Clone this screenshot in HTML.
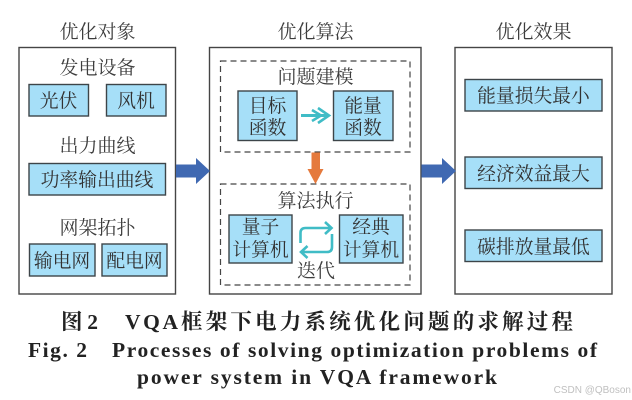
<!DOCTYPE html>
<html><head><meta charset="utf-8"><style>
html,body{margin:0;padding:0;background:#fff}
svg{display:block}
.c{font-family:"Liberation Serif","Noto Serif CJK SC",serif;fill:#3c3c3c;text-anchor:middle}
.t{font-size:19px}
.b{font-size:18.8px;fill:#333}
.box{fill:#a6dff8;stroke:#3e4448;stroke-width:1.4}
.panel{fill:#fff;stroke:#444;stroke-width:1.4}
.dash{fill:none;stroke:#444;stroke-width:1.2;stroke-dasharray:6 4}
.cap{font-family:"Liberation Serif","Noto Serif CJK SC",serif;fill:#222;font-weight:bold;font-size:21.5px}
</style></head><body>
<svg width="632" height="400" viewBox="0 0 632 400" xmlns="http://www.w3.org/2000/svg">
<defs><filter id="s" x="-5%" y="-5%" width="110%" height="110%"><feGaussianBlur stdDeviation="0.35"/></filter></defs>
<g filter="url(#s)">
<rect class="panel" x="19" y="47.5" width="156.5" height="246.5"/>
<rect class="panel" x="209.5" y="47.5" width="211.5" height="246.5"/>
<rect class="panel" x="455" y="47.5" width="157" height="246.5"/>
<rect class="dash" x="220.5" y="61" width="189.5" height="91"/>
<rect class="dash" x="220.5" y="184" width="189.5" height="101"/>

<rect class="box" x="29" y="84.5" width="59.5" height="31.5"/>
<rect class="box" x="106.5" y="84.5" width="59.5" height="31.5"/>
<rect class="box" x="29" y="163.5" width="136.5" height="31.5"/>
<rect class="box" x="29.5" y="244" width="65.5" height="32"/>
<rect class="box" x="102" y="244" width="65" height="32"/>
<rect class="box" x="238" y="91" width="59" height="49.5"/>
<rect class="box" x="333.5" y="91" width="59.5" height="49.5"/>
<rect class="box" x="229" y="215" width="63" height="48"/>
<rect class="box" x="339.5" y="215" width="63.5" height="48"/>
<rect class="box" x="465" y="79.5" width="137" height="31.5"/>
<rect class="box" x="465" y="157" width="137" height="31.5"/>
<rect class="box" x="465" y="230" width="137" height="31.5"/>

<polygon points="176,164.5 196,164.5 196,158 210,171 196,184 196,177.5 176,177.5" fill="#4169b2"/>
<polygon points="421.5,164.5 442,164.5 442,158 456,171 442,184 442,177.5 421.5,177.5" fill="#4169b2"/>
<polygon points="311.5,152.5 320,152.5 320,169 323.5,169 315.5,184 307.5,169 311.5,169" fill="#e57a3e"/>

<path d="M301 115.5H327" fill="none" stroke="#3fbcc6" stroke-width="3"/>
<path d="M318 108L329 115.5L318 123M312 110L321 115.5L312 121" fill="none" stroke="#3fbcc6" stroke-width="2.6"/>
<path d="M300.5 243V233Q300.5 228 305.5 228H331M325 222L331.5 228L325 234" fill="none" stroke="#3fbcc6" stroke-width="2.6"/>
<path d="M332 234V247Q332 252 327 252H301M307.5 246L301 252L307.5 258" fill="none" stroke="#3fbcc6" stroke-width="2.6"/>

<text class="c t" x="97.5" y="38">优化对象</text>
<text class="c t" x="315.5" y="38">优化算法</text>
<text class="c t" x="533.5" y="38">优化效果</text>

<text class="c t" x="97.5" y="74">发电设备</text>
<text class="c b" x="58.5" y="107">光伏</text>
<text class="c b" x="136" y="107">风机</text>
<text class="c t" x="97.5" y="152">出力曲线</text>
<text class="c b" x="97" y="186">功率输出曲线</text>
<text class="c t" x="97.5" y="234">网架拓扑</text>
<text class="c b" x="62" y="267">输电网</text>
<text class="c b" x="134.5" y="267">配电网</text>

<text class="c t" x="315.5" y="83">问题建模</text>
<text class="c b" x="267.5" y="112">目标</text>
<text class="c b" x="267.5" y="134">函数</text>
<text class="c b" x="363" y="112">能量</text>
<text class="c b" x="363" y="134">函数</text>

<text class="c t" x="315.5" y="207">算法执行</text>
<text class="c b" x="260.5" y="233">量子</text>
<text class="c b" x="260.5" y="256">计算机</text>
<text class="c b" x="371" y="233">经典</text>
<text class="c b" x="371" y="256">计算机</text>
<text class="c t" x="316" y="277">迭代</text>

<text class="c b" x="533.5" y="102">能量损失最小</text>
<text class="c b" x="533.5" y="180">经济效益最大</text>
<text class="c b" x="533.5" y="253">碳排放量最低</text>

<text class="cap" x="61" y="329" textLength="37" lengthAdjust="spacing">图 2</text>
<text class="cap" x="125" y="329" textLength="53" lengthAdjust="spacing">VQA</text>
<text class="cap" x="181" y="329" textLength="392" lengthAdjust="spacing">框架下电力系统优化问题的求解过程</text>
<text class="cap" x="28" y="357" textLength="59" lengthAdjust="spacing">Fig. 2</text>
<text class="cap" x="112" y="357" textLength="485" lengthAdjust="spacing">Processes of solving optimization problems of</text>
<text class="cap" x="137" y="384" textLength="360" lengthAdjust="spacing">power system in VQA framework</text>
<text x="631" y="393" font-family="Liberation Sans,sans-serif" font-size="10" fill="#c0c0c0" text-anchor="end">CSDN @QBoson</text>
</g>
</svg>
</body></html>
